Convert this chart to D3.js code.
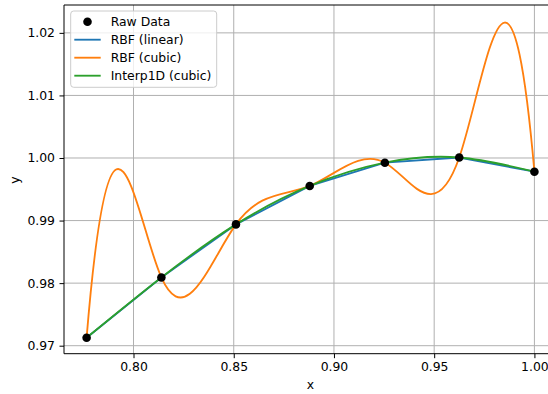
<!DOCTYPE html>
<html><head><meta charset="utf-8">
<script src="https://cdn.jsdelivr.net/npm/d3@7"></script>
<style>body{margin:0;background:#fff}svg{display:block;font-family:"DejaVu Sans",sans-serif}</style>
</head><body><svg id="c" width="548" height="394"></svg>
<script>
// Raw data
const rawX = [0.7766, 0.8139, 0.8511, 0.8879, 0.9254, 0.9625, 1.0];
const rawY = [0.97128, 0.98091, 0.98939, 0.99553, 0.99925, 1.00008, 0.99781];
// RBF (cubic): a C2 cubic spline through the raw points; end slopes
const rbfCubicEndSlopes = [3.9, -3.65];
const xTicks = [0.80, 0.85, 0.90, 0.95, 1.00];
const yTicks = [0.97, 0.98, 0.99, 1.00, 1.01, 1.02];
const legendLabels = ["Raw Data", "RBF (linear)", "RBF (cubic)", "Interp1D (cubic)"];
const colors = ["#000000", "#1f77b4", "#ff7f0e", "#2ca02c"];

const svg = d3.select("#c");
const L = 64, T = 5, B = 353.7, R = 556.8;
const x = d3.scaleLinear().domain([0.76532, 1.01117]).range([L, R]);
const y = d3.scaleLinear().domain([0.968721, 1.024454]).range([B, T]);
const fs = 12.4;

// d3 curve factory: clamped cubic spline (slopes given at both ends)
function curveClamped(s0, sn) {
  return function(context) {
    let xs = [], ys = [];
    return {
      lineStart(){ xs = []; ys = []; },
      lineEnd(){
        const n = xs.length;
        if (n < 2) return;
        const h = [], d = [];
        for (let i = 0; i < n - 1; i++) { h.push(xs[i+1]-xs[i]); d.push((ys[i+1]-ys[i])/h[i]); }
        const a = new Array(n).fill(0), b = new Array(n).fill(0), c = new Array(n).fill(0), r = new Array(n).fill(0);
        b[0] = 1; r[0] = s0; b[n-1] = 1; r[n-1] = sn;
        for (let i = 1; i < n - 1; i++) {
          a[i] = h[i]; b[i] = 2*(h[i-1]+h[i]); c[i] = h[i-1];
          r[i] = 3*(h[i]*d[i-1] + h[i-1]*d[i]);
        }
        for (let i = 1; i < n; i++) { const w = a[i]/b[i-1]; b[i] -= w*c[i-1]; r[i] -= w*r[i-1]; }
        const m = new Array(n);
        m[n-1] = r[n-1]/b[n-1];
        for (let i = n - 2; i >= 0; i--) m[i] = (r[i] - c[i]*m[i+1]) / b[i];
        context.moveTo(xs[0], ys[0]);
        for (let i = 0; i < n - 1; i++) {
          const hh = h[i]/3;
          context.bezierCurveTo(xs[i]+hh, ys[i]+m[i]*hh, xs[i+1]-hh, ys[i+1]-m[i+1]*hh, xs[i+1], ys[i+1]);
        }
      },
      point(px, py){ xs.push(+px); ys.push(+py); },
      areaStart(){}, areaEnd(){}
    };
  };
}
const slopeK = (y(1) - y(0)) / (x(1) - x(0));

svg.append("defs").append("clipPath").attr("id","clip")
  .append("rect").attr("x",L).attr("y",T).attr("width",R-L).attr("height",B-T);

// grid
const grid = svg.append("g");
grid.selectAll(".gx").data(xTicks).join("line")
  .attr("x1",d=>x(d)).attr("x2",d=>x(d)).attr("y1",T).attr("y2",B)
  .attr("stroke","#b0b0b0").attr("stroke-width",1);
grid.selectAll(".gy").data(yTicks).join("line")
  .attr("x1",L).attr("x2",R).attr("y1",d=>y(d)).attr("y2",d=>y(d))
  .attr("stroke","#b0b0b0").attr("stroke-width",1);

// axes
const xAxis = d3.axisBottom(x).tickValues(xTicks).tickFormat(d3.format(".2f")).tickSize(4.5).tickPadding(4.5).tickSizeOuter(0);
const yAxis = d3.axisLeft(y).tickValues(yTicks).tickFormat(d3.format(".2f")).tickSize(4.5).tickPadding(4.5).tickSizeOuter(0);
const gx = svg.append("g").attr("transform",`translate(0,${B})`).call(xAxis);
const gy = svg.append("g").attr("transform",`translate(${L},0)`).call(yAxis);
[gx,gy].forEach(g=>{
  g.select(".domain").remove();
  g.selectAll("text").attr("font-family","DejaVu Sans").attr("font-size",fs).attr("fill","#000");
  g.selectAll("line").attr("stroke","#000").attr("stroke-width",1);
});

const plot = svg.append("g").attr("clip-path","url(#clip)");
const rawPts = rawX.map((v,i)=>[v,rawY[i]]);
const mk = c => d3.line().x(d=>x(d[0])).y(d=>y(d[1])).curve(c);
plot.append("path").attr("d",mk(d3.curveLinear)(rawPts)).attr("fill","none").attr("stroke",colors[1]).attr("stroke-width",1.85);
plot.append("path").attr("d",mk(curveClamped(rbfCubicEndSlopes[0]*slopeK, rbfCubicEndSlopes[1]*slopeK))(rawPts))
  .attr("fill","none").attr("stroke",colors[2]).attr("stroke-width",1.85);
plot.append("path").attr("d",mk(d3.curveNatural)(rawPts)).attr("fill","none").attr("stroke",colors[3]).attr("stroke-width",1.85);
plot.selectAll("circle").data(rawPts).join("circle")
  .attr("cx",d=>x(d[0])).attr("cy",d=>y(d[1])).attr("r",4.3).attr("fill","#000");

// spines
svg.append("line").attr("x1",L).attr("x2",L).attr("y1",T).attr("y2",B).attr("stroke","#000").attr("stroke-width",1);
svg.append("line").attr("x1",L).attr("x2",R).attr("y1",B).attr("y2",B).attr("stroke","#000").attr("stroke-width",1);
svg.append("line").attr("x1",L).attr("x2",R).attr("y1",T).attr("y2",T).attr("stroke","#000").attr("stroke-width",1);

// labels
svg.append("text").attr("x",(L+R)/2).attr("y",389).attr("text-anchor","middle").attr("font-size",fs).text("x");
svg.append("text").attr("transform","translate(19,180) rotate(-90)").attr("text-anchor","middle").attr("font-size",fs).text("y");

// legend
const lg = svg.append("g");
lg.append("rect").attr("x",70.7).attr("y",11).attr("width",146).attr("height",76.3).attr("rx",3)
  .attr("fill","#fff").attr("fill-opacity",0.8).attr("stroke","#cccccc").attr("stroke-width",1);
legendLabels.forEach((lab,i)=>{
  const cy = 21.7 + i*18;
  if(i===0){
    lg.append("circle").attr("cx",87.5).attr("cy",cy).attr("r",4.3).attr("fill","#000");
  } else {
    lg.append("line").attr("x1",74.3).attr("x2",100.7).attr("y1",cy).attr("y2",cy).attr("stroke",colors[i]).attr("stroke-width",1.85);
  }
  lg.append("text").attr("x",110.7).attr("y",cy).attr("dy","0.35em").attr("font-size",fs).text(lab);
});
</script></body></html>
